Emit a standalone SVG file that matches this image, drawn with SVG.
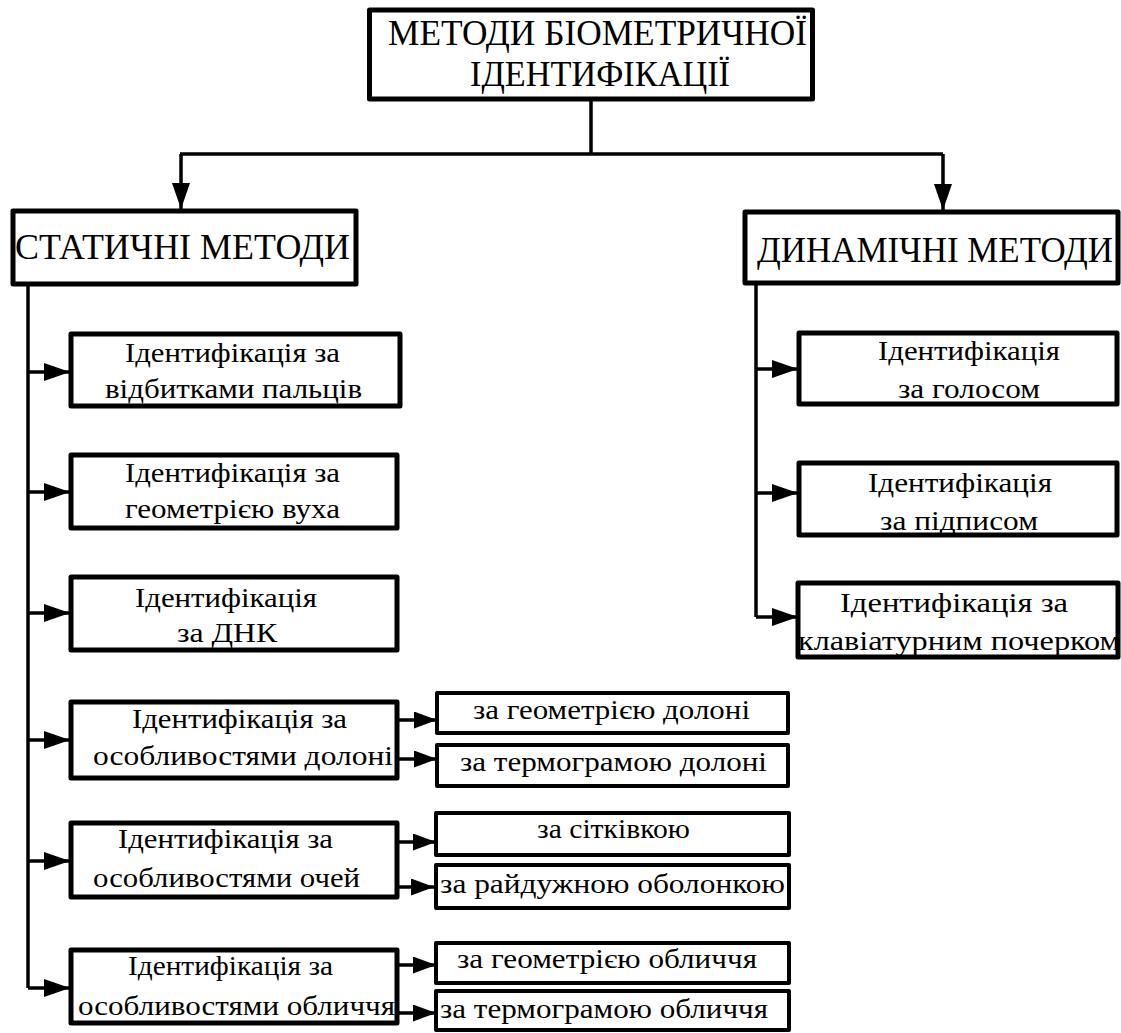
<svg xmlns="http://www.w3.org/2000/svg" width="1121" height="1033" viewBox="0 0 1121 1033" font-family="'Liberation Serif','Times New Roman','DejaVu Serif','Noto Serif',Tinos,FreeSerif,serif">
<style>
.box{fill:#fff;stroke:#000;stroke-width:5;stroke-linejoin:round}
.sub{fill:#fff;stroke:#000;stroke-width:4;stroke-linejoin:round}
.ln{fill:none;stroke:#000;stroke-width:3.5}
text{font-family:'Liberation Serif','Times New Roman','DejaVu Serif','Noto Serif',Tinos,FreeSerif,serif;fill:#000;text-anchor:middle}
.t1{font-size:36px}
.t2{font-size:35px}
.t3{font-size:27px}
</style>
<defs>
<marker id="ah" markerUnits="userSpaceOnUse" markerWidth="26" markerHeight="18" refX="26" refY="9" orient="auto">
<path d="M0,0 L26,9 L0,18 Z" fill="#000"/>
</marker>
<marker id="ahs" markerUnits="userSpaceOnUse" markerWidth="23" markerHeight="17" refX="23" refY="8.5" orient="auto">
<path d="M0,0 L23,8.5 L0,17 Z" fill="#000"/>
</marker>
</defs>
<rect width="1121" height="1033" fill="#fff"/>
<g id="connectors">
<path class="ln" d="M591,99 V154 M180,154 H943"/>
<path class="ln" d="M181,154 V209" marker-end="url(#ah)"/>
<path class="ln" d="M943,154 V210" marker-end="url(#ah)"/>
<path class="ln" d="M28,284 V988"/>
<path class="ln" d="M28,372 H70" marker-end="url(#ah)"/>
<path class="ln" d="M28,492 H70" marker-end="url(#ah)"/>
<path class="ln" d="M28,613 H70" marker-end="url(#ah)"/>
<path class="ln" d="M28,740 H70" marker-end="url(#ah)"/>
<path class="ln" d="M28,861 H70" marker-end="url(#ah)"/>
<path class="ln" d="M28,988 H70" marker-end="url(#ah)"/>
<path class="ln" d="M756,283 V617"/>
<path class="ln" d="M756,369 H798" marker-end="url(#ah)"/>
<path class="ln" d="M756,493 H798" marker-end="url(#ah)"/>
<path class="ln" d="M756,617 H798" marker-end="url(#ah)"/>
<path class="ln" d="M397,720 H437" marker-end="url(#ahs)"/>
<path class="ln" d="M397,759 H437" marker-end="url(#ahs)"/>
<path class="ln" d="M397,842 H436" marker-end="url(#ahs)"/>
<path class="ln" d="M397,887 H434" marker-end="url(#ahs)"/>
<path class="ln" d="M397,965 H436" marker-end="url(#ahs)"/>
<path class="ln" d="M397,1013 H436" marker-end="url(#ahs)"/>
</g>
<g id="root">
<rect class="box" x="369.5" y="10" width="443" height="89"/>
<text class="t1" x="597.5" y="45" textLength="419" lengthAdjust="spacingAndGlyphs">МЕТОДИ БІОМЕТРИЧНОЇ</text>
<text class="t1" x="600" y="86" textLength="260" lengthAdjust="spacingAndGlyphs">ІДЕНТИФІКАЦІЇ</text>
</g>
<g id="static">
<rect class="box" x="13" y="211" width="343" height="73"/>
<text class="t2" x="182.5" y="259" textLength="335" lengthAdjust="spacingAndGlyphs">СТАТИЧНІ МЕТОДИ</text>
</g>
<g id="dynamic">
<rect class="box" x="745" y="212" width="373" height="71"/>
<text class="t2" x="935" y="262" textLength="356" lengthAdjust="spacingAndGlyphs">ДИНАМІЧНІ МЕТОДИ</text>
</g>
<g id="finger">
<rect class="box" x="71" y="334" width="329" height="72"/>
<text class="t3" x="232.5" y="362" textLength="215" lengthAdjust="spacingAndGlyphs">Ідентифікація за</text>
<text class="t3" x="233.5" y="398" textLength="257" lengthAdjust="spacingAndGlyphs">відбитками пальців</text>
</g>
<g id="ear">
<rect class="box" x="71" y="455" width="326" height="73"/>
<text class="t3" x="232.5" y="482" textLength="215" lengthAdjust="spacingAndGlyphs">Ідентифікація за</text>
<text class="t3" x="232.5" y="518" textLength="215" lengthAdjust="spacingAndGlyphs">геометрією вуха</text>
</g>
<g id="dna">
<rect class="box" x="71" y="577" width="326" height="73"/>
<text class="t3" x="226" y="607" textLength="182" lengthAdjust="spacingAndGlyphs">Ідентифікація</text>
<text class="t3" x="227" y="642" textLength="100" lengthAdjust="spacingAndGlyphs">за ДНК</text>
</g>
<g id="palm">
<rect class="box" x="71" y="702" width="326" height="76"/>
<text class="t3" x="239.5" y="728" textLength="215" lengthAdjust="spacingAndGlyphs">Ідентифікація за</text>
<text class="t3" x="243" y="765" textLength="300" lengthAdjust="spacingAndGlyphs">особливостями долоні</text>
</g>
<g id="eyes">
<rect class="box" x="71" y="823" width="326" height="74"/>
<text class="t3" x="225.5" y="848" textLength="215" lengthAdjust="spacingAndGlyphs">Ідентифікація за</text>
<text class="t3" x="226.5" y="887" textLength="267" lengthAdjust="spacingAndGlyphs">особливостями очей</text>
</g>
<g id="face">
<rect class="box" x="71" y="950" width="326" height="73"/>
<text class="t3" x="230.5" y="975" textLength="205" lengthAdjust="spacingAndGlyphs">Ідентифікація за</text>
<text class="t3" x="236.5" y="1015" textLength="317" lengthAdjust="spacingAndGlyphs">особливостями обличчя</text>
</g>
<g id="voice">
<rect class="box" x="799" y="333" width="318" height="71"/>
<text class="t3" x="969" y="360" textLength="182" lengthAdjust="spacingAndGlyphs">Ідентифікація</text>
<text class="t3" x="969" y="398" textLength="142" lengthAdjust="spacingAndGlyphs">за голосом</text>
</g>
<g id="signature">
<rect class="box" x="799" y="463" width="318" height="72"/>
<text class="t3" x="960" y="492" textLength="184" lengthAdjust="spacingAndGlyphs">Ідентифікація</text>
<text class="t3" x="959" y="530" textLength="158" lengthAdjust="spacingAndGlyphs">за підписом</text>
</g>
<g id="keyboard">
<rect class="box" x="798" y="583" width="320" height="74"/>
<text class="t3" x="954" y="612" textLength="228" lengthAdjust="spacingAndGlyphs">Ідентифікація за</text>
<text class="t3" x="959" y="650" textLength="322" lengthAdjust="spacingAndGlyphs">клавіатурним почерком</text>
</g>
<g id="palm-geom">
<rect class="sub" x="437" y="693" width="351" height="40"/>
<text class="t3" x="611.5" y="719" textLength="277" lengthAdjust="spacingAndGlyphs">за геометрією долоні</text>
</g>
<g id="palm-thermo">
<rect class="sub" x="437" y="745" width="351" height="41"/>
<text class="t3" x="613.5" y="771" textLength="307" lengthAdjust="spacingAndGlyphs">за термограмою долоні</text>
</g>
<g id="retina">
<rect class="sub" x="436" y="813" width="353" height="42"/>
<text class="t3" x="613.5" y="838" textLength="153" lengthAdjust="spacingAndGlyphs">за сітківкою</text>
</g>
<g id="iris">
<rect class="sub" x="436" y="865" width="353" height="43"/>
<text class="t3" x="612.5" y="893" textLength="345" lengthAdjust="spacingAndGlyphs">за райдужною оболонкою</text>
</g>
<g id="face-geom">
<rect class="sub" x="436" y="943" width="353" height="40"/>
<text class="t3" x="607" y="968" textLength="300" lengthAdjust="spacingAndGlyphs">за геометрією обличчя</text>
</g>
<g id="face-thermo">
<rect class="sub" x="436" y="991" width="353" height="39"/>
<text class="t3" x="604" y="1018" textLength="328" lengthAdjust="spacingAndGlyphs">за термограмою обличчя</text>
</g>
</svg>
